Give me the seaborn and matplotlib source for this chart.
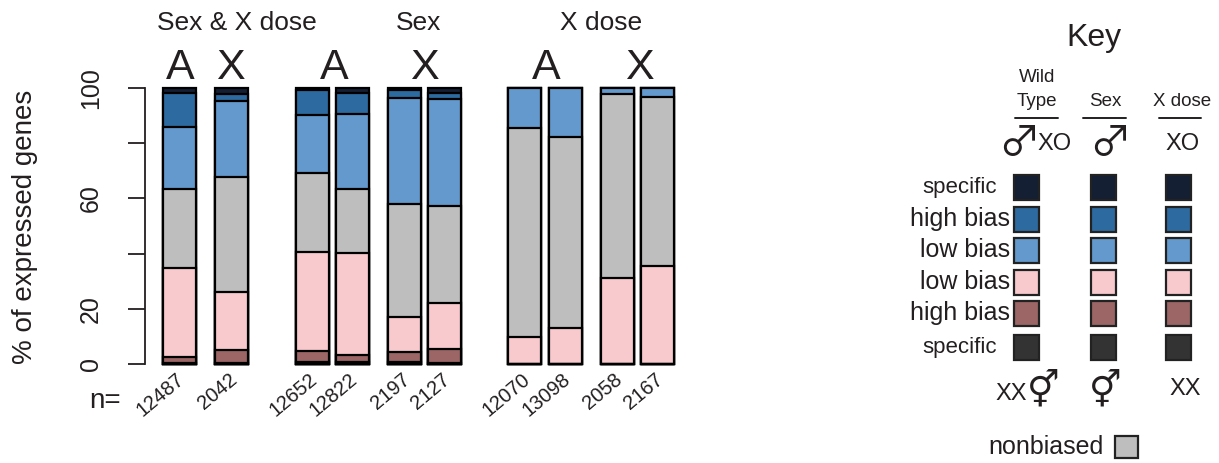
import numpy as np
import pandas as pd
import matplotlib
matplotlib.use("Agg")
import matplotlib.pyplot as plt
import matplotlib.patches as patches
import seaborn as sns

# --- data: % of expressed genes per bar, bottom (female) to top (male) ---
n_labels = ["12487", "2042", "12652", "12822", "2197", "2127",
            "12070", "13098", "2058", "2167"]
f_specific = [0.3, 0.5, 0.8, 0.8, 0.8, 0.5, 0.0, 0.0, 0.0, 0.0]
f_high = [2.1, 4.6, 4.0, 2.3, 3.7, 5.1, 0.0, 0.0, 0.0, 0.0]
f_low = [32.3, 20.9, 35.9, 37.2, 12.7, 16.4, 9.7, 12.9, 31.3, 35.6]
nonbiased = [28.6, 41.6, 28.4, 23.1, 40.7, 35.4, 75.9, 69.5, 66.5, 61.3]
m_low = [22.7, 27.8, 21.1, 27.1, 38.4, 38.5, 14.4, 17.6, 2.2, 3.1]
m_high = [12.2, 2.6, 9.0, 7.8, 3.0, 2.4, 0.0, 0.0, 0.0, 0.0]
m_specific = [1.8, 2.0, 0.8, 1.7, 0.7, 1.7, 0.0, 0.0, 0.0, 0.0]

group_titles = ["Sex & X dose", "Sex", "X dose"]
chrom_letters = ["A", "X", "A", "X", "A", "X"]
row_labels = ["specific", "high bias", "low bias", "low bias", "high bias", "specific"]

colors = {
    "f_specific": "#333333",
    "f_high": "#9c6566",
    "f_low": "#f8cacd",
    "nonbiased": "#bebebe",
    "m_low": "#6399cc",
    "m_high": "#2d6a9f",
    "m_specific": "#141f33",
}
text_c = "#231f20"

df = pd.DataFrame({
    "f_specific": f_specific, "f_high": f_high, "f_low": f_low,
    "nonbiased": nonbiased, "m_low": m_low, "m_high": m_high,
    "m_specific": m_specific,
})
cum = df.cumsum(axis=1)

# layout (pixel units of the 1219x463 canvas)
bar_x = np.array([179.5, 232, 312, 352.5, 405, 445, 525, 565.5, 617.5, 658])
bar_w = 33.0

sns.set_theme(style="ticks")
plt.rcParams["font.family"] = ["Liberation Sans", "DejaVu Sans"]
plt.rcParams["text.color"] = text_c

W, H = 1219, 463
fig = plt.figure(figsize=(W / 100, H / 100), dpi=100)
fig.patch.set_facecolor("white")

ax = fig.add_axes([145 / W, (H - 364) / H, (700 - 145) / W, (364 - 88) / H])
width_frac = bar_w / np.diff(np.sort(bar_x)).min()

# draw layers from the top of the stack down so each boundary shows
for col in reversed(df.columns):
    sns.barplot(x=bar_x, y=cum[col].values, native_scale=True, width=width_frac,
                color=colors[col], saturation=1, errorbar=None,
                edgecolor="black", linewidth=1.6, ax=ax, clip_on=False)

ax.set_xlim(145, 700)
ax.set_ylim(0, 100)
ax.set_yticks([0, 20, 40, 60, 80, 100])
ax.set_yticklabels(["0", "20", "", "60", "", "100"], rotation=90, va="center",
                   fontsize=18, color=text_c)
ax.tick_params(axis="y", length=12.5, width=1.3, pad=18, colors=text_c)
ax.set_xticks([])
ax.set_xlabel("")
ax.set_ylabel("")
ax.set_facecolor("none")
sns.despine(ax=ax, bottom=True)
ax.spines["left"].set_linewidth(1.3)
ax.spines["left"].set_color(text_c)

# overlay in pixel coordinates for annotations and the key
ov = fig.add_axes([0, 0, 1, 1])
ov.set_xlim(0, W)
ov.set_ylim(H, 0)
ov.axis("off")
ov.patch.set_alpha(0)

ov.text(25, 227, "% of expressed genes", rotation=90, ha="center", va="center",
        fontsize=20)

for t, x in zip(group_titles, [237, 419, 601]):
    ov.text(x, 23, t, ha="center", va="center", fontsize=19)
for t, x in zip(chrom_letters, [180, 230, 334, 424, 546, 639]):
    ov.text(x, 68, t, ha="center", va="center", fontsize=31)

ov.text(89, 408, "n=", ha="left", va="baseline", fontsize=20)
for t, x in zip(n_labels, bar_x):
    ov.text(x + 6, 381, t, rotation=40, rotation_mode="anchor", ha="right",
            va="baseline", fontsize=14.5)

# --- key ---
ov.text(1094, 38, "Key", ha="center", va="center", fontsize=23)
ov.text(1037, 78, "Wild", ha="center", va="center", fontsize=13.5)
for t, x in zip(["Type", "Sex", "X dose"], [1037, 1105, 1182]):
    ov.text(x, 101, t, ha="center", va="center", fontsize=13.5)
for x0, x1 in [(1015, 1058), (1083, 1126), (1159, 1201)]:
    ov.plot([x0, x1], [118, 118], color=text_c, lw=1.4)

male_font = ["Noto Sans CJK JP", "DejaVu Sans"]
ov.text(1019, 144, "\u2642", ha="center", va="center", fontsize=30, family=male_font)
ov.text(1055, 144, "XO", ha="center", va="center", fontsize=17)
ov.text(1110, 144, "\u2642", ha="center", va="center", fontsize=30, family=male_font)
ov.text(1183, 144, "XO", ha="center", va="center", fontsize=17)

row_y = [187, 219, 250, 282, 313, 347]
row_cols = ["m_specific", "m_high", "m_low", "f_low", "f_high", "f_specific"]
col_x = [1026, 1103, 1178]
sq = 25
for lab, y, c in zip(row_labels, row_y, row_cols):
    fs = 16 if lab == "specific" else 18
    xr = 997 if lab == "specific" else 1010
    ov.text(xr, y, lab, ha="right", va="center", fontsize=fs)
    for x in col_x:
        ov.add_patch(patches.Rectangle((x - sq / 2, y - sq / 2), sq, sq,
                                       facecolor=colors[c], edgecolor="#222222",
                                       lw=1.6))

ov.text(1011, 394, "XX", ha="center", va="center", fontsize=17)
ov.text(1043, 391, "\u26a5", ha="center", va="center", fontsize=26)
ov.text(1105, 391, "\u26a5", ha="center", va="center", fontsize=26)
ov.text(1185, 389, "XX", ha="center", va="center", fontsize=17)

ov.text(1104, 447, "nonbiased", ha="right", va="center", fontsize=18)
ov.add_patch(patches.Rectangle((1115, 436), 23, 22, facecolor=colors["nonbiased"],
                               edgecolor="#222222", lw=1.6))

fig.savefig("out.png", dpi=100, facecolor="white")
